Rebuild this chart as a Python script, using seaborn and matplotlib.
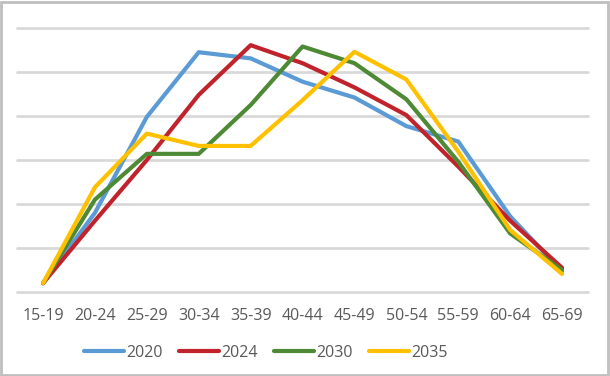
import numpy as np
import pandas as pd
import seaborn as sns
import matplotlib.pyplot as plt
from matplotlib.patches import Rectangle

# 年齡組與各年度數值
ages = ['15-19', '20-24', '25-29', '30-34', '35-39', '40-44',
        '45-49', '50-54', '55-59', '60-64', '65-69']
v2020 = [0.2, 1.8, 3.98, 5.45, 5.31, 4.78, 4.42, 3.77, 3.42, 1.72, 0.47]
v2024 = [0.2, 1.62, 3.0, 4.48, 5.61, 5.2, 4.65, 4.02, 2.85, 1.62, 0.55]
v2030 = [0.2, 2.1, 3.14, 3.14, 4.25, 5.58, 5.2, 4.38, 2.96, 1.33, 0.5]
v2035 = [0.2, 2.38, 3.6, 3.32, 3.32, 4.36, 5.46, 4.83, 3.19, 1.41, 0.41]
years = ['2020', '2024', '2030', '2035']
colors = ['#5B9BD5', '#C0232B', '#4E8A35', '#FFC000']

df = pd.DataFrame({'age': ages * 4,
                   'value': v2020 + v2024 + v2030 + v2035,
                   'year': np.repeat(years, len(ages))})

sns.set_style('white')
plt.rcParams['font.family'] = ['Open Sans', 'DejaVu Sans']

fig = plt.figure(figsize=(6.10, 3.76), dpi=100)
ax = fig.add_axes([0.028, 0.2234, 0.936, 0.7021])

sns.lineplot(data=df, x='age', y='value', hue='year', palette=colors,
             linewidth=3, sort=False, ax=ax, solid_capstyle='round')

ax.set_xlim(-0.5, 10.5)
ax.set_ylim(0, 6)
ax.set_yticks(range(7))
ax.yaxis.grid(True, color='#d9d9d9', linewidth=2)
ax.set_axisbelow(True)
ax.tick_params(axis='y', left=False, labelleft=False)
ax.tick_params(axis='x', bottom=False, labelsize=11.5, labelcolor='#595959', pad=8)
ax.set_xlabel('')
ax.set_ylabel('')
for s in ax.spines.values():
    s.set_visible(False)
for gl in ax.get_ygridlines():
    gl.set_clip_on(False)

leg = ax.legend(loc='center', bbox_to_anchor=(266 / 610, 23 / 376),
                bbox_transform=fig.transFigure, ncol=4, frameon=False,
                fontsize=11.5, handlelength=2.5, handletextpad=0.15,
                columnspacing=1.0)
for t in leg.get_texts():
    t.set_color('#595959')
for h in leg.get_lines():
    h.set_linewidth(3)

# 外框
fig.patches.append(Rectangle((0.002, 0.003), 0.995, 0.993, transform=fig.transFigure,
                             fill=False, edgecolor='#bfbfbf', linewidth=2))

fig.savefig('out.png', dpi=100)
